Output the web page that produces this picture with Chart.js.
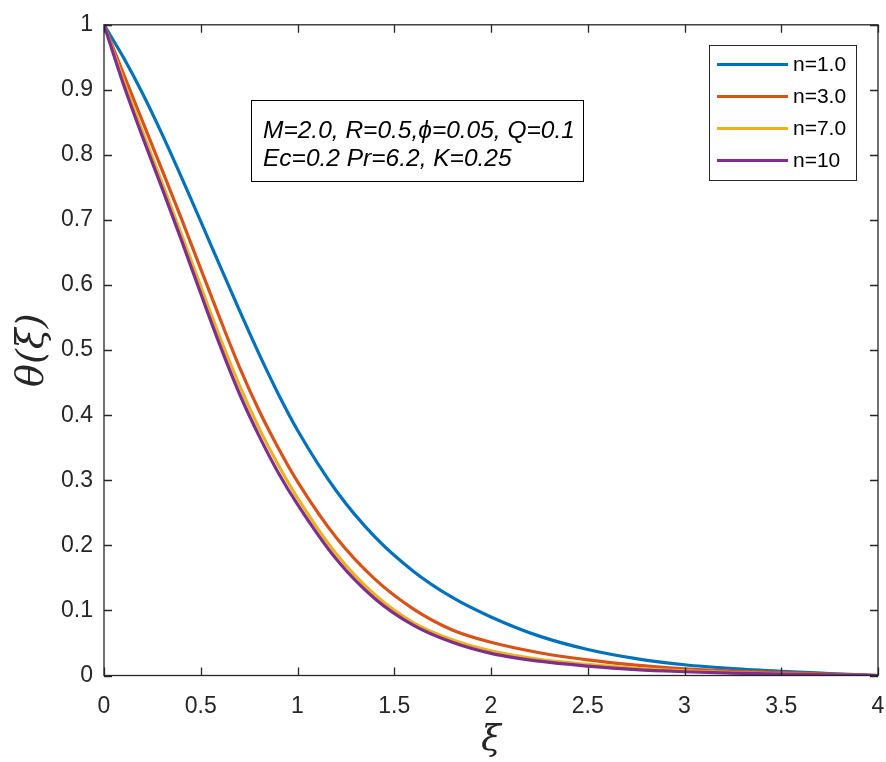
<!DOCTYPE html>
<html>
<head>
<meta charset="utf-8">
<script src="https://cdn.jsdelivr.net/npm/chart.js@4.4.0/dist/chart.umd.min.js"></script>
<style>
  html, body { margin: 0; padding: 0; background: #fff; }
  canvas { display: block; }
</style>
</head>
<body>
<canvas id="myChart" width="886" height="762"></canvas>
<script>
// values
const xi = [0, 0.1, 0.2, 0.3, 0.4, 0.5, 0.6, 0.7, 0.8, 0.9, 1.0, 1.2, 1.4, 1.6, 1.8, 2.0, 2.25, 2.5, 2.75, 3.0, 3.25, 3.5, 3.75, 4.0]
const theta_n1 = [1, 0.950, 0.894, 0.832, 0.766, 0.698, 0.629, 0.561, 0.495, 0.433, 0.377, 0.284, 0.213, 0.160, 0.120, 0.090, 0.0605, 0.040, 0.026, 0.0165, 0.0105, 0.0063, 0.003, 0]
const theta_n3 = [1, 0.925, 0.851, 0.777, 0.702, 0.625, 0.548, 0.474, 0.408, 0.350, 0.298, 0.212, 0.148, 0.102, 0.070, 0.051, 0.035, 0.024, 0.016, 0.0103, 0.0068, 0.0043, 0.002, 0]
const theta_n7 = [1, 0.915, 0.835, 0.757, 0.678, 0.598, 0.519, 0.446, 0.381, 0.324, 0.273, 0.187, 0.124, 0.081, 0.055, 0.038, 0.025, 0.0172, 0.011, 0.007, 0.0045, 0.0025, 0.001, 0]
const theta_n10 = [1, 0.909, 0.827, 0.749, 0.669, 0.587, 0.507, 0.433, 0.369, 0.312, 0.263, 0.179, 0.118, 0.077, 0.051, 0.034, 0.022, 0.0145, 0.009, 0.0058, 0.0035, 0.002, 0.001, 0]

const seriesLabels = ['n=1.0', 'n=3.0', 'n=7.0', 'n=10']
const seriesValues = [theta_n1, theta_n3, theta_n7, theta_n10]
const seriesColors = ['#0072BD', '#D95319', '#EDB120', '#7E2F8E']

const xTickLabels = ['0', '0.5', '1', '1.5', '2', '2.5', '3', '3.5', '4']
const yTickLabels = ['0', '0.1', '0.2', '0.3', '0.4', '0.5', '0.6', '0.7', '0.8', '0.9', '1']
const noteLines = ['M=2.0, R=0.5,\u03D5=0.05, Q=0.1', 'Ec=0.2 Pr=6.2, K=0.25']

const axisColor = '#262626'
const sans = '"Liberation Sans", Arial, Helvetica, sans-serif'
const serif = '"DejaVu Serif", "Liberation Serif", serif'

// MATLAB-ish box: inward ticks on all sides, legend and text box
const matlabBox = {
    id: 'matlabBox',
    afterDraw(chart) {
        const { ctx, chartArea: a } = chart
        const xs = chart.scales.x, ys = chart.scales.y
        const tl = 8
        ctx.save()
        ctx.strokeStyle = axisColor
        ctx.lineWidth = 1.3
        ctx.strokeRect(a.left, a.top, a.right - a.left, a.bottom - a.top)
        ctx.beginPath()
        xs.ticks.forEach(t => {
            const px = Math.round(xs.getPixelForValue(t.value)) + 0.5
            ctx.moveTo(px, a.bottom); ctx.lineTo(px, a.bottom - tl)
            ctx.moveTo(px, a.top); ctx.lineTo(px, a.top + tl)
        })
        ys.ticks.forEach(t => {
            const py = Math.round(ys.getPixelForValue(t.value)) + 0.5
            ctx.moveTo(a.left, py); ctx.lineTo(a.left + tl, py)
            ctx.moveTo(a.right, py); ctx.lineTo(a.right - tl, py)
        })
        ctx.stroke()

        // legend
        const lx = 709.5, ly = 45.5, lw = 147, lh = 135
        ctx.fillStyle = '#fff'
        ctx.fillRect(lx, ly, lw, lh)
        ctx.lineWidth = 1
        ctx.strokeStyle = axisColor
        ctx.strokeRect(lx, ly, lw, lh)
        ctx.font = '21px ' + sans
        ctx.textBaseline = 'middle'
        ctx.textAlign = 'left'
        chart.data.datasets.forEach((ds, i) => {
            const y = 64.5 + i * 32
            ctx.strokeStyle = ds.borderColor
            ctx.lineWidth = 3
            ctx.beginPath()
            ctx.moveTo(717, y); ctx.lineTo(788, y)
            ctx.stroke()
            ctx.fillStyle = '#000'
            ctx.fillText(ds.label, 793, y + 1)
        })

        // parameter text box
        ctx.strokeStyle = '#000'
        ctx.lineWidth = 1
        ctx.strokeRect(251.5, 100.5, 332, 81)
        ctx.font = 'italic 24.5px ' + sans
        ctx.fillStyle = '#000'
        ctx.textBaseline = 'alphabetic'
        noteLines.forEach((s, i) => ctx.fillText(s, 263, 138 + i * 28))
        ctx.restore()
    }
}

const datasets = seriesLabels.map((label, i) => ({
    label: label,
    data: xi.map((x, j) => ({ x: x, y: seriesValues[i][j] })),
    borderColor: seriesColors[i],
    backgroundColor: seriesColors[i],
    borderWidth: 3.2,
    pointRadius: 0,
    fill: false,
    cubicInterpolationMode: 'monotone',
    order: seriesLabels.length - i
}))

const config = {
    type: 'line',
    data: { datasets },
    options: {
        responsive: false,
        devicePixelRatio: 1,
        animation: false,
        layout: { padding: { left: 0, right: 8, top: 20, bottom: 0 } },
        plugins: {
            legend: { display: false },
            tooltip: { enabled: false }
        },
        scales: {
            x: {
                type: 'linear',
                min: 0,
                max: 4,
                afterFit: s => { s.height = 86.5; s.paddingRight = 0; s.paddingLeft = 0 },
                grid: { display: false, drawTicks: false },
                border: { display: false },
                ticks: {
                    stepSize: 0.5,
                    padding: 17,
                    color: axisColor,
                    font: { family: sans, size: 23 },
                    maxRotation: 0,
                    callback: (v, i) => xTickLabels[i]
                },
                title: {
                    display: true,
                    text: '\u03BE',
                    color: axisColor,
                    font: { family: serif, size: 36, style: 'italic' },
                    padding: { top: 0, bottom: 0 }
                }
            },
            y: {
                type: 'linear',
                min: 0,
                max: 1,
                afterFit: s => { s.width = 104 },
                grid: { display: false, drawTicks: false },
                border: { display: false },
                ticks: {
                    stepSize: 0.1,
                    padding: 11,
                    color: axisColor,
                    font: { family: sans, size: 23 },
                    callback: (v, i) => yTickLabels[i]
                },
                title: {
                    display: true,
                    text: '\u03B8(\u03BE)',
                    color: axisColor,
                    font: { family: serif, size: 38, style: 'italic' },
                    padding: { top: 10, bottom: 0 }
                }
            }
        }
    },
    plugins: [matlabBox]
}

const myChart = new Chart(document.getElementById('myChart'), config)
</script>
</body>
</html>
